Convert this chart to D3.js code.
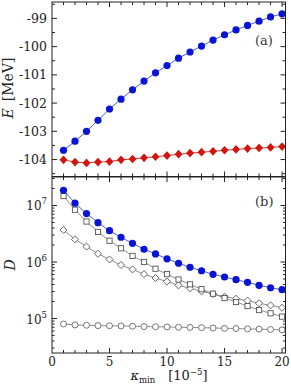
<!DOCTYPE html>
<html>
<head>
<meta charset="utf-8">
<script src="https://cdn.jsdelivr.net/npm/d3@7"></script>
<style>
  body { margin: 0; background: #fff; }
  .tick-label { font-size: 12px; fill: #222; }
</style>
</head>
<body>
<svg id="canvas"></svg>
<script>
const kappa = [1, 2, 3, 4, 5, 6, 7, 8, 9, 10, 11, 12, 13, 14, 15, 16, 17, 18, 19, 20];

// panel (a): energies in MeV
const energyBlue = [-103.67, -103.35, -103.0, -102.61, -102.21, -101.86, -101.53, -101.22, -100.93, -100.67,
    -100.41, -100.19, -99.98, -99.77, -99.58, -99.41, -99.25, -99.1, -98.95, -98.84];
const energyRed = [-104.01, -104.09, -104.12, -104.09, -104.07, -104.01, -103.98, -103.94, -103.9, -103.86,
    -103.81, -103.77, -103.74, -103.71, -103.67, -103.64, -103.61, -103.59, -103.57, -103.54];

// panel (b): dimensions
const dimBlue = [1.86e7, 1.1e7, 7.2e6, 4.97e6, 3.58e6, 2.74e6, 2.14e6, 1.68e6, 1.39e6, 1.14e6,
    9.5e5, 8.06e5, 7.0e5, 6.05e5, 5.43e5, 4.87e5, 4.37e5, 3.87e5, 3.5e5, 3.24e5];
const dimSquare = [1.47e7, 8.4e6, 5.2e6, 3.4e6, 2.38e6, 1.75e6, 1.28e6, 1.0e6, 7.6e5, 6.1e5,
    4.9e5, 4.03e5, 3.3e5, 2.75e5, 2.3e5, 1.96e5, 1.66e5, 1.41e5, 1.24e5, 1.08e5];
const dimDiamond = [3.68e6, 2.52e6, 1.87e6, 1.4e6, 1.11e6, 8.85e5, 7.4e5, 6.1e5, 5.2e5, 4.5e5,
    3.87e5, 3.43e5, 3.03e5, 2.72e5, 2.43e5, 2.24e5, 2.07e5, 1.86e5, 1.71e5, 1.55e5];
const dimCircle = [8.0e4, 7.7e4, 7.6e4, 7.5e4, 7.45e4, 7.4e4, 7.3e4, 7.2e4, 7.15e4, 7.1e4,
    7.0e4, 6.95e4, 6.9e4, 6.8e4, 6.7e4, 6.65e4, 6.55e4, 6.5e4, 6.4e4, 6.3e4];

const xTicks = [0, 5, 10, 15, 20];
const eTicks = [-104, -103, -102, -101, -100, -99];
const dTicks = [5, 6, 7];

const width = 291;
const height = 386;
const left = 52, right = 285.5;
const topA = 2, bottomA = 176.5;
const topB = 177, bottomB = 353;

const svg = d3.select("#canvas").attr("width", width).attr("height", height)
    .style("font-family", "DejaVu Serif");

const x = d3.scaleLinear().domain([0, 20.3]).range([left, right]);
const yA = d3.scaleLinear().domain([-104.6, -98.42]).range([bottomA, topA]);
const yB = d3.scaleLog().domain([Math.pow(10, 4.39), Math.pow(10, 7.504)]).range([bottomB, topB]);

const axisColor = "#222";

function xTickMarks(y0, y1) {
    // minor every 1, major every 5, both edges, pointing inwards
    for (let v = 1; v <= 20; v++) {
        const len = v % 5 === 0 ? 5 : 3;
        svg.append("line").attr("x1", x(v)).attr("x2", x(v))
            .attr("y1", y1).attr("y2", y1 - len)
            .attr("stroke", axisColor).attr("stroke-width", 1);
        svg.append("line").attr("x1", x(v)).attr("x2", x(v))
            .attr("y1", y0).attr("y2", y0 + len)
            .attr("stroke", axisColor).attr("stroke-width", 1);
    }
}

function yTick(y, len) {
    svg.append("line").attr("x1", left).attr("x2", left + len).attr("y1", y).attr("y2", y)
        .attr("stroke", axisColor).attr("stroke-width", 1);
    svg.append("line").attr("x1", right).attr("x2", right - len).attr("y1", y).attr("y2", y)
        .attr("stroke", axisColor).attr("stroke-width", 1);
}

// ---- panel (a)
for (let v = -104.5; v <= -98.5; v += 0.5) {
    const major = Math.abs(v - Math.round(v)) < 1e-6;
    yTick(yA(v), major ? 5 : 3);
}
xTickMarks(topA, bottomA);

svg.selectAll(".e-label")
    .data(eTicks)
    .enter()
    .append("text")
    .attr("class", "tick-label")
    .style("font-size", "12.5px")
    .attr("x", left - 5)
    .attr("y", d => yA(d) + 4.5)
    .attr("text-anchor", "end")
    .text(d => "-" + Math.abs(d));

const lineA = d3.line().x((d, i) => x(kappa[i])).y(d => yA(d));

svg.append("path").attr("d", lineA(energyBlue)).attr("fill", "none")
    .attr("stroke", "#4a5ee0").attr("stroke-width", 1);
svg.append("path").attr("d", lineA(energyRed)).attr("fill", "none")
    .attr("stroke", "#e03030").attr("stroke-width", 1);

svg.selectAll(".e-blue")
    .data(energyBlue)
    .enter()
    .append("circle")
    .attr("cx", (d, i) => x(kappa[i]))
    .attr("cy", d => yA(d))
    .attr("r", 3.6)
    .attr("fill", "#0a14d2");

const diamond = d3.symbol().type(d3.symbolDiamond2);

svg.selectAll(".e-red")
    .data(energyRed)
    .enter()
    .append("path")
    .attr("d", diamond.size(40)())
    .attr("transform", (d, i) => "translate(" + x(kappa[i]) + "," + yA(d) + ") scale(1,1.1)")
    .attr("fill", "#d2140f");

svg.append("text").attr("x", 255).attr("y", 45)
    .style("font-size", "13px").attr("fill", "#333").text("(a)");

const eLabel = svg.append("text")
    .attr("transform", "translate(13,88) rotate(-90)")
    .attr("text-anchor", "middle")
    .style("font-size", "14px").attr("fill", "#222");
eLabel.append("tspan").style("font-style", "italic").text("E");
eLabel.append("tspan").text("\u2002[MeV]");

// ---- panel (b)
for (let e = 4; e <= 7; e++) {
    for (let m = 1; m <= 9; m++) {
        const v = m * Math.pow(10, e);
        const yy = yB(v);
        if (yy < topB || yy > bottomB) continue;
        yTick(yy, m === 1 ? 5 : 2.5);
    }
}
xTickMarks(topB, bottomB);

const dLabels = svg.selectAll(".d-label")
    .data(dTicks)
    .enter()
    .append("text")
    .attr("class", "tick-label")
    .attr("x", left - 5)
    .attr("y", d => yB(Math.pow(10, d)) + 5)
    .attr("text-anchor", "end");
dLabels.append("tspan").text("10");
dLabels.append("tspan").attr("dy", -6).style("font-size", "8.5px").text(d => d);

svg.selectAll(".x-label")
    .data(xTicks)
    .enter()
    .append("text")
    .attr("class", "tick-label")
    .attr("x", d => x(d))
    .attr("y", 366)
    .attr("text-anchor", "middle")
    .text(d => d);

const lineB = d3.line().x((d, i) => x(kappa[i])).y(d => yB(d));

const grayLine = "#808080";
[dimCircle, dimDiamond, dimSquare].forEach(s => {
    svg.append("path").attr("d", lineB(s)).attr("fill", "none")
        .attr("stroke", grayLine).attr("stroke-width", 0.9);
});
svg.append("path").attr("d", lineB(dimBlue)).attr("fill", "none")
    .attr("stroke", "#4a5ee0").attr("stroke-width", 1);

svg.selectAll(".d-circle")
    .data(dimCircle)
    .enter()
    .append("circle")
    .attr("cx", (d, i) => x(kappa[i]))
    .attr("cy", d => yB(d))
    .attr("r", 3)
    .attr("fill", "#fff")
    .attr("stroke", "#666")
    .attr("stroke-width", 0.9);

svg.selectAll(".d-diamond")
    .data(dimDiamond)
    .enter()
    .append("path")
    .attr("d", diamond.size(32)())
    .attr("transform", (d, i) => "translate(" + x(kappa[i]) + "," + yB(d) + ")")
    .attr("fill", "#fff")
    .attr("stroke", "#555")
    .attr("stroke-width", 0.9);

svg.selectAll(".d-square")
    .data(dimSquare)
    .enter()
    .append("rect")
    .attr("x", (d, i) => x(kappa[i]) - 2.6)
    .attr("y", d => yB(d) - 2.6)
    .attr("width", 5.2)
    .attr("height", 5.2)
    .attr("fill", "#fff")
    .attr("stroke", "#555")
    .attr("stroke-width", 0.9);

svg.selectAll(".d-blue")
    .data(dimBlue)
    .enter()
    .append("circle")
    .attr("cx", (d, i) => x(kappa[i]))
    .attr("cy", d => yB(d))
    .attr("r", 3.6)
    .attr("fill", "#0a14d2");

svg.append("text").attr("x", 255).attr("y", 206)
    .style("font-size", "13px").attr("fill", "#333").text("(b)");

svg.append("text")
    .attr("transform", "translate(15,265) rotate(-90)")
    .attr("text-anchor", "middle")
    .style("font-size", "14px").style("font-style", "italic").attr("fill", "#222")
    .text("D");

const xl = svg.append("text").attr("x", 169).attr("y", 380)
    .attr("text-anchor", "middle")
    .style("font-size", "13px").attr("fill", "#222");
xl.append("tspan").style("font-style", "italic").text("\u03ba");
xl.append("tspan").attr("dy", 2.5).style("font-size", "8.5px").text("min");
xl.append("tspan").attr("dy", -2.5).text("\u2003[10");
xl.append("tspan").attr("dy", -5).style("font-size", "8.5px").text("\u22125");
xl.append("tspan").attr("dy", 5).text("]");

// frames
[[topA, bottomA], [topB, bottomB]].forEach(([t, b]) => {
    svg.append("rect").attr("x", left).attr("y", t)
        .attr("width", right - left).attr("height", b - t)
        .attr("fill", "none").attr("stroke", axisColor).attr("stroke-width", 1);
});
</script>
</body>
</html>
